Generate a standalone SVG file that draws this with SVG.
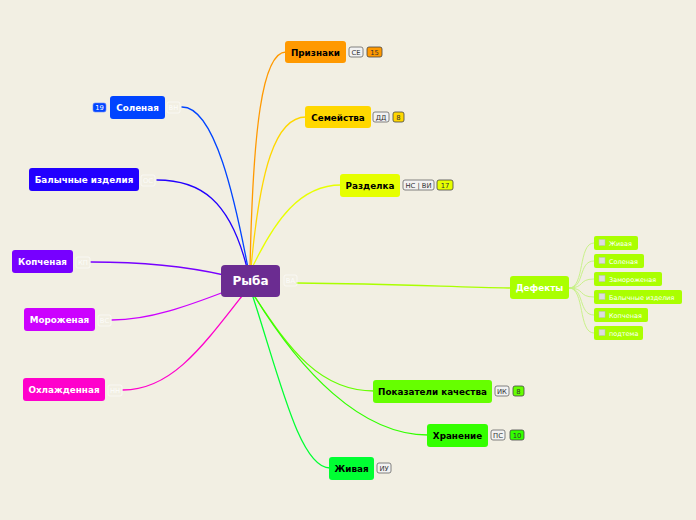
<svg xmlns="http://www.w3.org/2000/svg" width="696" height="520" viewBox="0 0 696 520">
<style>
.n{font-family:"DejaVu Sans",sans-serif;font-weight:bold;font-size:8.8px;text-anchor:middle}
.w{fill:#fff}.k{fill:#000}
.c{fill:none;stroke-width:1.3;stroke-linecap:round}
.bg{fill:#f2f2f2;stroke:#666;stroke-width:0.8}
.bt{font-family:"DejaVu Sans",sans-serif;font-size:6.8px;text-anchor:middle;fill:#333}
.fb{fill:none;stroke:#fff;stroke-opacity:0.7;stroke-width:0.8}
.ft{font-family:"DejaVu Sans",sans-serif;font-size:6.8px;text-anchor:middle;fill:#fff;fill-opacity:0.85}
.nb{stroke:#444;stroke-width:0.8}
.sub{fill:#aaff00}
.st{font-family:"DejaVu Sans",sans-serif;font-size:6.5px;fill:#fff}
.cb{fill:#ddd;stroke:#bbb;stroke-width:0.5}
.sc{fill:none;stroke:#c4f080;stroke-width:0.9}
</style>
<rect width="696" height="520" fill="#f2efe3"/>
<g id="connectors">
<path class="c" stroke="#ff9900" d="M250 268 C253 130 262 52 286 52"/>
<path class="c" stroke="#ffd700" d="M251 268 C260 170 275 117 306 117"/>
<path class="c" stroke="#e8ff00" d="M252 268 C275 220 300 185 341 185"/>
<path class="c" stroke="#aaff00" d="M297 283 C400 284 450 287 511 288"/>
<path class="c" stroke="#66ff00" d="M255 297 C290 350 320 391 374 391"/>
<path class="c" stroke="#33ff00" d="M255 297 C300 370 360 435 428 435"/>
<path class="c" stroke="#00ff33" d="M253 297 C280 380 300 468 330 468"/>
<path class="c" stroke="#0044ff" d="M248 268 C235 200 215 107 182 107"/>
<path class="c" stroke="#2200ff" d="M247 268 C230 200 200 180 157 180"/>
<path class="c" stroke="#7700ff" d="M224 275 C180 265 140 262 91 262"/>
<path class="c" stroke="#cc00ff" d="M224 292 C190 305 150 320 112 320"/>
<path class="c" stroke="#ff00cc" d="M242 296 C200 350 170 390 123 390"/>
<path class="sc" d="M569 288 C585 288 578 243 594 243"/>
<path class="sc" d="M569 288 C585 288 578 261 594 261"/>
<path class="sc" d="M569 288 C585 288 578 279 594 279"/>
<path class="sc" d="M569 288 C585 288 578 297 594 297"/>
<path class="sc" d="M569 288 C585 288 578 315 594 315"/>
<path class="sc" d="M569 288 C585 288 578 333 594 333"/>
</g>
<g id="ryba">
<rect x="221" y="265" width="59" height="32" rx="4" fill="#6b2c91"/>
<text class="n w" x="250.5" y="285" style="font-size:12px">Рыба</text>
<rect class="fb" x="284" y="275" width="13" height="11" rx="2"/>
<text class="ft" x="290.5" y="283">ВА</text>
</g>
<g id="solenaya">
<rect x="110" y="96" width="55" height="23" rx="3" fill="#0044ff"/>
<text class="n w" x="137.5" y="111">Соленая</text>
<rect x="93" y="103" width="13" height="9" rx="2" fill="#0044ff" stroke="#6688ff" stroke-width="0.6"/>
<text class="bt" x="99.5" y="110" style="fill:#fff">19</text>
<rect class="fb" x="167" y="102" width="13" height="11" rx="2"/>
<text class="ft" x="173.5" y="110">ВН</text>
</g>
<g id="balychnye">
<rect x="29" y="168" width="110" height="23" rx="3" fill="#2200ff"/>
<text class="n w" x="84" y="183">Балычные изделия</text>
<rect class="fb" x="141" y="175" width="14" height="11" rx="2"/>
<text class="ft" x="148" y="183">ОС</text>
</g>
<g id="kopchenaya">
<rect x="12" y="250" width="61" height="23" rx="3" fill="#7700ff"/>
<text class="n w" x="42.5" y="265">Копченая</text>
<rect class="fb" x="76" y="257" width="14" height="11" rx="2"/>
<text class="ft" x="83" y="265">КП</text>
</g>
<g id="morozhenaya">
<rect x="24" y="308" width="71" height="23" rx="3" fill="#cc00ff"/>
<text class="n w" x="59.5" y="323">Мороженая</text>
<rect class="fb" x="98" y="315" width="13" height="11" rx="2"/>
<text class="ft" x="104.5" y="323">ВС</text>
</g>
<g id="okhlazhdennaya">
<rect x="23" y="378" width="82" height="23" rx="3" fill="#ff00cc"/>
<text class="n w" x="64" y="393">Охлажденная</text>
<rect class="fb" x="108" y="385" width="14" height="11" rx="2"/>
<text class="ft" x="115" y="393">НН</text>
</g>
<g id="priznaki">
<rect x="285" y="41" width="61" height="22" rx="3" fill="#ff9900"/>
<text class="n k" x="315.5" y="55.5">Признаки</text>
<rect class="bg" x="349" y="47" width="14" height="10" rx="2"/>
<text class="bt" x="356" y="54.5">СЕ</text>
<rect class="nb" x="367" y="47" width="15" height="10" rx="2" fill="#ff9900"/>
<text class="bt" x="374.5" y="54.5">15</text>
</g>
<g id="semeystva">
<rect x="305" y="106" width="66" height="22" rx="3" fill="#ffd700"/>
<text class="n k" x="338" y="120.5">Семейства</text>
<rect class="bg" x="373" y="112" width="16" height="10" rx="2"/>
<text class="bt" x="381" y="119.5">ДД</text>
<rect class="nb" x="393" y="112" width="11" height="10" rx="2" fill="#ffd700"/>
<text class="bt" x="398.5" y="119.5">8</text>
</g>
<g id="razdelka">
<rect x="340" y="174" width="60" height="23" rx="3" fill="#e6ff00"/>
<text class="n k" x="370" y="189">Разделка</text>
<rect class="bg" x="403" y="180" width="31" height="10" rx="2"/>
<text class="bt" x="418.5" y="187.5">НС | ВИ</text>
<rect class="nb" x="437" y="180" width="16" height="10" rx="2" fill="#e6ff00"/>
<text class="bt" x="445" y="187.5">17</text>
</g>
<g id="defekty">
<rect x="510" y="276" width="59" height="23" rx="3" fill="#aaff00"/>
<text class="n w" x="539.5" y="291">Дефекты</text>
<g id="d1"><rect class="sub" x="594" y="236" width="44" height="14" rx="2"/><rect class="cb" x="599" y="239.5" width="6" height="6"/><text class="st" x="609" y="245.5">Живая</text></g>
<g id="d2"><rect class="sub" x="594" y="254" width="50" height="14" rx="2"/><rect class="cb" x="599" y="257.5" width="6" height="6"/><text class="st" x="609" y="263.5">Соленая</text></g>
<g id="d3"><rect class="sub" x="594" y="272" width="68" height="14" rx="2"/><rect class="cb" x="599" y="275.5" width="6" height="6"/><text class="st" x="609" y="281.5">Замороженая</text></g>
<g id="d4"><rect class="sub" x="594" y="290" width="88" height="14" rx="2"/><rect class="cb" x="599" y="293.5" width="6" height="6"/><text class="st" x="609" y="299.5">Балычные изделия</text></g>
<g id="d5"><rect class="sub" x="594" y="308" width="54" height="14" rx="2"/><rect class="cb" x="599" y="311.5" width="6" height="6"/><text class="st" x="609" y="317.5">Копченая</text></g>
<g id="d6"><rect class="sub" x="594" y="326" width="49" height="14" rx="2"/><rect class="cb" x="599" y="329.5" width="6" height="6"/><text class="st" x="609" y="335.5">подтема</text></g>
</g>
<g id="pokazateli">
<rect x="373" y="380" width="119" height="23" rx="3" fill="#66ff00"/>
<text class="n k" x="432.5" y="395">Показатели качества</text>
<rect class="bg" x="495" y="386" width="14" height="10" rx="2"/>
<text class="bt" x="502" y="393.5">ИК</text>
<rect class="nb" x="513" y="386" width="11" height="10" rx="2" fill="#66ff00"/>
<text class="bt" x="518.5" y="393.5">8</text>
</g>
<g id="khranenie">
<rect x="427" y="424" width="61" height="23" rx="3" fill="#33ff00"/>
<text class="n k" x="457.5" y="439">Хранение</text>
<rect class="bg" x="491" y="430" width="14" height="10" rx="2"/>
<text class="bt" x="498" y="437.5">ПС</text>
<rect class="nb" x="510" y="430" width="14" height="10" rx="2" fill="#33ff00"/>
<text class="bt" x="517" y="437.5">10</text>
</g>
<g id="zhivaya">
<rect x="329" y="457" width="45" height="23" rx="3" fill="#00ff33"/>
<text class="n k" x="351.5" y="472">Живая</text>
<rect class="bg" x="377" y="463" width="14" height="10" rx="2"/>
<text class="bt" x="384" y="470.5">ИУ</text>
</g>
</svg>
